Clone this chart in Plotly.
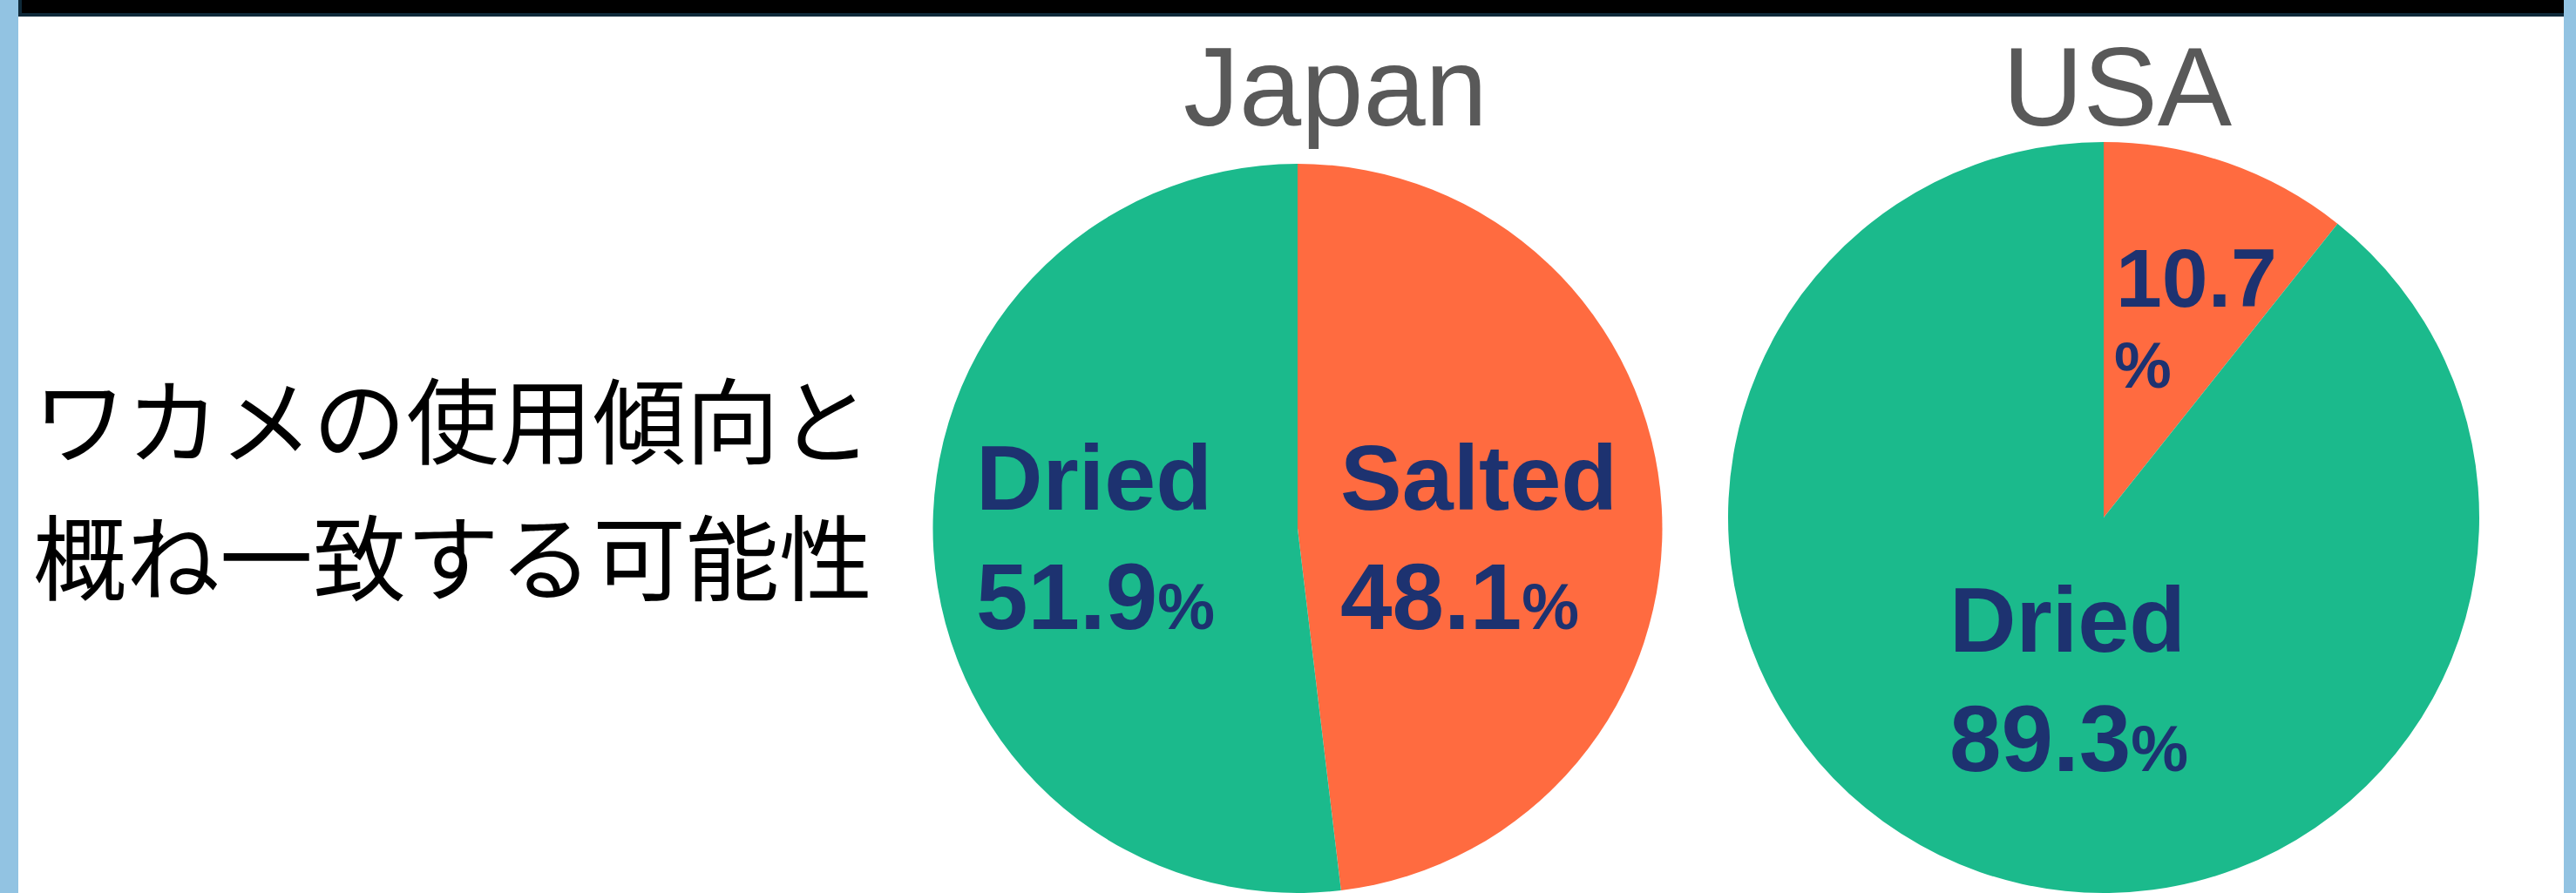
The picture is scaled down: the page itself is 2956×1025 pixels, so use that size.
import plotly.graph_objects as go

# ---------------- data ----------------
countries = ["Japan", "USA"]
categories = ["Dried", "Salted"]
japan_values = [51.9, 48.1]
usa_values = [89.3, 10.7]
side_text = ["ワカメの使用傾向と", "概ね一致する可能性"]

# ---------------- styling / layout (pixels) ----------------
W, H = 2956, 1025
GREEN = "#1BBA8C"
ORANGE = "#FF6B40"
NAVY = "#1D3270"
GREY = "#595959"
LABEL_FONT = "Liberation Sans, Arial, sans-serif"
cat_colors = {"Dried": GREEN, "Salted": ORANGE}


def px(x):
    return x / W


def py(y):
    return 1 - y / H


# pie squares: (left, right, top) in px, bottom is the figure bottom
pie_boxes = {"Japan": (1070, 1908, 188), "USA": (1983, 2845, 163)}
title_pos = {"Japan": (1532, 100), "USA": (2430, 100)}

fig = go.Figure()
for country, vals in zip(countries, [japan_values, usa_values]):
    l, r, t = pie_boxes[country]
    # Salted first so it starts at 12 o'clock on the right-hand side
    labs = categories[::-1]
    vs = vals[::-1]
    fig.add_trace(go.Pie(
        labels=labs, values=vs, sort=False,
        direction="counterclockwise", rotation=0,
        marker=dict(colors=[cat_colors[c] for c in labs], line=dict(width=0)),
        textinfo="none", hoverinfo="skip",
        domain=dict(x=[px(l), px(r)], y=[0, py(t)]),
        showlegend=False,
    ))

annotations = []
# titles
for country in countries:
    x, y = title_pos[country]
    annotations.append(dict(
        x=px(x), y=py(y), xref="paper", yref="paper",
        xanchor="center", yanchor="middle", showarrow=False,
        text=country, font=dict(family=LABEL_FONT, size=128, color=GREY)))

# slice labels: (country, category index, x, name baseline, value baseline)
label_layout = [
    ("Japan", 0, 1118, 585, 722),
    ("Japan", 1, 1536, 585, 722),
    ("USA", 0, 2235, 748, 885),
]
data_map = {"Japan": japan_values, "USA": usa_values}
NAME_FS = 106
VAL_FS = 107
PCT_FS = 74
for country, ci, x, b1, b2 in label_layout:
    v = data_map[country][ci]
    annotations.append(dict(
        x=px(x), y=py(b1 - 0.3465 * NAME_FS), xref="paper", yref="paper",
        xanchor="left", yanchor="middle", showarrow=False,
        text="<b>%s</b>" % categories[ci],
        font=dict(family=LABEL_FONT, size=NAME_FS, color=NAVY)))
    annotations.append(dict(
        x=px(x), y=py(b2 - 0.3465 * VAL_FS), xref="paper", yref="paper",
        xanchor="left", yanchor="middle", showarrow=False,
        text="<b>%.1f<span style='font-size:%dpx'>%%</span></b>" % (v, PCT_FS),
        font=dict(family=LABEL_FONT, size=VAL_FS, color=NAVY)))

# USA salted: value and percent sign on separate lines, no name
usa_small = usa_values[1]
annotations.append(dict(
    x=px(2426), y=py(352 - 0.3465 * 95), xref="paper", yref="paper",
    xanchor="left", yanchor="middle", showarrow=False,
    text="<b>%.1f</b>" % usa_small,
    font=dict(family=LABEL_FONT, size=95, color=NAVY)))
annotations.append(dict(
    x=px(2424), y=py(445 - 0.3465 * PCT_FS), xref="paper", yref="paper",
    xanchor="left", yanchor="middle", showarrow=False,
    text="<b>%</b>",
    font=dict(family=LABEL_FONT, size=PCT_FS, color=NAVY)))

# Japanese side text
for line, yc in zip(side_text, [478, 634]):
    annotations.append(dict(
        x=px(36), y=py(yc), xref="paper", yref="paper",
        xanchor="left", yanchor="middle", showarrow=False,
        text=line,
        font=dict(family="Noto Sans CJK JP", size=107, color="#000000", weight=400)))

shapes = [
    # left / right light-blue strips
    dict(type="rect", xref="paper", yref="paper", x0=0, x1=px(21), y0=0, y1=1,
         fillcolor="#92C3E2", line=dict(width=0), layer="below"),
    dict(type="rect", xref="paper", yref="paper", x0=px(2942), x1=1, y0=0, y1=1,
         fillcolor="#92C3E2", line=dict(width=0), layer="below"),
    # top black bar
    dict(type="rect", xref="paper", yref="paper", x0=px(21), x1=px(2942), y0=py(19), y1=1,
         fillcolor="#0F2A3A", line=dict(width=0), layer="below"),
    dict(type="rect", xref="paper", yref="paper", x0=px(25), x1=px(2942), y0=py(15), y1=1,
         fillcolor="#000000", line=dict(width=0), layer="below"),
]

fig.update_layout(
    width=W, height=H,
    margin=dict(l=0, r=0, t=0, b=0),
    paper_bgcolor="#FFFFFF", plot_bgcolor="#FFFFFF",
    showlegend=False, hovermode=False,
    annotations=annotations, shapes=shapes,
)

fig.write_html("out.html", config={"displayModeBar": False})
